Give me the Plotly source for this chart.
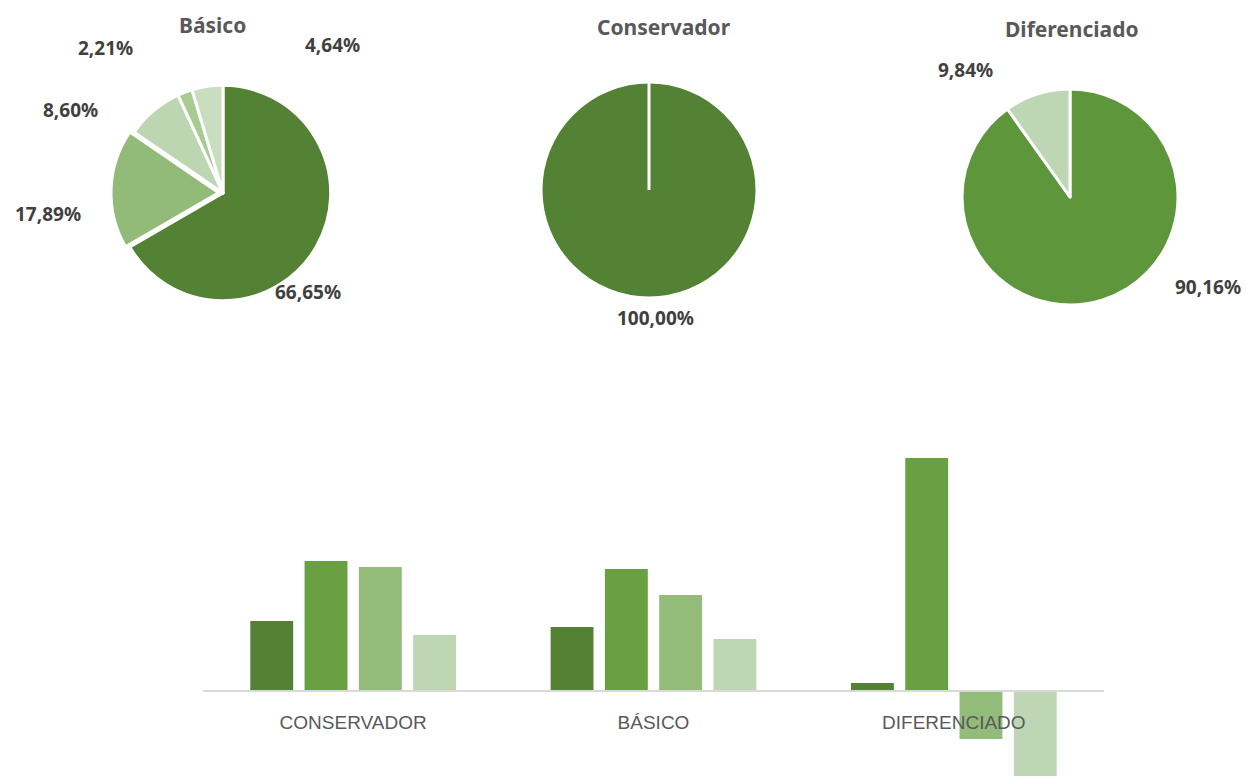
import plotly.graph_objects as go

# ---- data ----
basico_vals = [66.65, 17.89, 8.60, 2.21, 4.64]
conservador_vals = [100.00]
diferenciado_vals = [90.16, 9.84]
pie_titles = ["Básico", "Conservador", "Diferenciado"]

bar_categories = ["CONSERVADOR", "BÁSICO", "DIFERENCIADO"]
serie1 = [70, 64, 8]
serie2 = [130, 122, 233]
serie3 = [124, 96, -48]
serie4 = [56, 52, -100]

# ---- styles / layout ----
W, H = 1247, 776
basico_colors = ["#548235", "#92bb7a", "#bdd6b2", "#a8cb92", "#c9ddbf"]
conservador_colors = ["#548235"]
diferenciado_colors = ["#5e963c", "#bed6b3"]
bar_colors = ["#548235", "#69a142", "#93bb7a", "#bfd6b4"]
label_font = dict(family="Noto Sans", size=19, color="#404040")
title_font = dict(family="Noto Sans", size=21, color="#595959")

# label anchor positions (pixels) per pie, same order as values
basico_lbl_pos = [(308, 292), (48, 214), (70, 110), (105, 48), (332, 45)]
conservador_lbl_pos = [(655, 318)]
diferenciado_lbl_pos = [(1208, 287), (965, 70)]


def dom(cx, cy, r):
    return dict(x=[(cx - r) / W, (cx + r) / W], y=[1 - (cy + r) / H, 1 - (cy - r) / H])


fig = go.Figure()

pies = [
    (basico_vals, basico_colors, (223, 193, 112), [0, 0.04, 0, 0, 0], basico_lbl_pos),
    (conservador_vals, conservador_colors, (649, 190, 108), [0], conservador_lbl_pos),
    (diferenciado_vals, diferenciado_colors, (1070, 197, 108), [0, 0], diferenciado_lbl_pos),
]
for vals, cols, (cx, cy, r), pull, lpos in pies:
    fig.add_trace(go.Pie(
        values=vals, sort=False, direction="clockwise", rotation=0,
        marker=dict(colors=cols, line=dict(color="white", width=3)),
        domain=dom(cx, cy, r), pull=pull, textinfo="none",
        showlegend=False, hoverinfo="skip",
    ))
    for v, (lx, ly) in zip(vals, lpos):
        fig.add_annotation(text="<b>%s%%</b>" % ("%.2f" % v).replace(".", ","),
                           x=lx / W, y=1 - ly / H, xref="paper", yref="paper",
                           xanchor="center", yanchor="middle", showarrow=False, font=label_font)

# slice border of the single-slice pie (from centre to 12 o'clock)
cx, cy, r = 649, 190, 108
fig.add_shape(type="line", xref="paper", yref="paper",
              x0=cx / W, x1=cx / W, y0=1 - cy / H, y1=1 - (cy - r) / H,
              line=dict(color="white", width=3))

for vals, name, col in zip([serie1, serie2, serie3, serie4],
                           ["Serie 1", "Serie 2", "Serie 3", "Serie 4"], bar_colors):
    fig.add_trace(go.Bar(x=bar_categories, y=vals, name=name,
                         marker=dict(color=col, line=dict(width=0)),
                         showlegend=False, hoverinfo="skip"))

title_pos = [(212, 25), (664, 27), (1072, 29)]
for t, (x, y) in zip(pie_titles, title_pos):
    fig.add_annotation(text="<b>%s</b>" % t, x=x / W, y=1 - y / H, xref="paper", yref="paper",
                       xanchor="center", yanchor="middle", showarrow=False, font=title_font)

y_bottom, y_zero, y_top = 776, 691, 440
fig.update_layout(
    width=W, height=H, margin=dict(l=0, r=0, t=0, b=0),
    paper_bgcolor="white", plot_bgcolor="white",
    barmode="group", bargap=0.277, bargroupgap=0.21,
    xaxis=dict(domain=[203 / W, 1104 / W], anchor="free", position=1 - y_zero / H,
               showline=True, linecolor="#d9d9d9", linewidth=1.5, showgrid=False,
               ticks="", ticklabelstandoff=14,
               tickfont=dict(family="Liberation Sans", size=19, color="#595959")),
    yaxis=dict(domain=[0, 1 - y_top / H], range=[-(y_bottom - y_zero), y_zero - y_top],
               visible=False, showgrid=False, zeroline=False),
)

fig.write_html("out.html", config={"displayModeBar": False},
               post_script="document.body.style.margin='0px';")
